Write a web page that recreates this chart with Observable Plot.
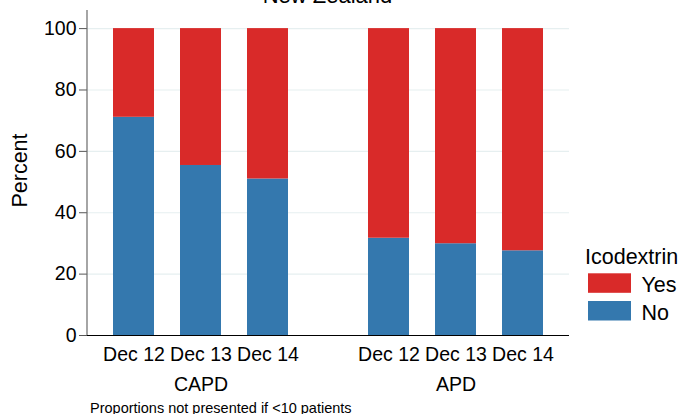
<!DOCTYPE html>
<html>
<head>
<meta charset="utf-8">
<script src="https://cdn.jsdelivr.net/npm/d3@7"></script>
<script src="https://cdn.jsdelivr.net/npm/@observablehq/plot@0.6"></script>
<style>
  body { margin: 0; background: #fff; }
  #wrap { position: relative; width: 682px; height: 414px; overflow: hidden; font-family: "Liberation Sans", Arial, sans-serif; }
</style>
</head>
<body>
<div id="wrap"></div>
<script>
// ---- data ----
const groups = ["CAPD", "APD"];
const periods = ["Dec 12", "Dec 13", "Dec 14"];
const answers = ["No", "Yes"];           // stacking order, bottom to top
const legendOrder = ["Yes", "No"];
const capdNo  = [71.1, 55.4, 51.0];
const capdYes = [28.9, 44.6, 49.0];
const apdNo   = [31.7, 29.9, 27.6];
const apdYes  = [68.3, 70.1, 72.4];
const answerColors = ["#3478ae", "#d92a29"]; // No, Yes
const yTicks = [0, 20, 40, 60, 80, 100];
const titleText = "New Zealand";
const yLabel = "Percent";
const legendTitle = "Icodextrin";
const captionText = "Proportions not presented if <10 patients";

const series = {CAPD: {No: capdNo, Yes: capdYes}, APD: {No: apdNo, Yes: apdYes}};
const data = [];
for (const g of groups) for (const a of answers) periods.forEach((p, i) => data.push({group: g, period: p, answer: a, value: series[g][a][i]}));

const FONT = "Liberation Sans, Arial, sans-serif";
const fxStep = 255;          // facet step in px
const fxGap = 28;            // gap between the two facet bands
const marginLeft = 87;

const chart = Plot.plot({
  width: 682,
  height: 414,
  marginLeft,
  marginRight: 113,
  marginTop: 10,
  marginBottom: 79,
  style: {fontFamily: FONT, background: "white", color: "black"},
  fx: {domain: groups, paddingInner: fxGap / fxStep, paddingOuter: 0, label: null, axis: null},
  x: {domain: periods, padding: 26 / 67, label: null, axis: null},
  y: {domain: [0, 105.9], label: null, axis: null},
  color: {domain: answers, range: answerColors},
  marks: [
    // horizontal grid spanning both panels (anchored in the first panel)
    Plot.ruleY(yTicks.filter(v => v > 0), {fx: () => groups[0], insetRight: -fxStep, stroke: "#e6eff0", strokeWidth: 1.2}),
    Plot.barY(data, {fx: "group", x: "period", y: "value", fill: "answer", order: answers}),
    // x axis line
    Plot.ruleY([0], {fx: () => groups[0], insetRight: -fxStep, stroke: "black", strokeWidth: 1.2}),
    Plot.axisY({ticks: yTicks, anchor: "left", tickSize: 8, tickPadding: 3, fontSize: 19.5, stroke: "#555", fill: "black", label: null}),
    Plot.axisX({anchor: "bottom", tickSize: 0, tickPadding: 12, fontSize: 19.5, fill: "black", label: null}),
    Plot.axisFx({anchor: "bottom", tickSize: 0, tickPadding: 42, fontSize: 19.5, fill: "black", label: null})
  ]
});

const wrap = document.getElementById("wrap");
wrap.appendChild(chart);

// ---- extra decorations inside the same svg: y-axis line, texts and legend ----
const color = chart.scale("color");
const yScale = chart.scale("y");
const colorOf = a => answerColors[color.domain.indexOf(a)];
const ov = d3.select(chart).append("g")
  .attr("font-family", FONT).attr("fill", "black").attr("text-anchor", "start");

ov.append("line")
  .attr("x1", marginLeft).attr("x2", marginLeft)
  .attr("y1", yScale.range[0]).attr("y2", yScale.range[1])
  .attr("stroke", "#6a6a6a").attr("stroke-width", 1.2);

ov.append("text").attr("x", 327.5).attr("y", 3).attr("text-anchor", "middle")
  .attr("font-size", 22).text(titleText);

ov.append("text").attr("transform", "translate(27,170.5) rotate(-90)").attr("text-anchor", "middle")
  .attr("font-size", 21.5).text(yLabel);

ov.append("text").attr("x", 585).attr("y", 264.3).attr("font-size", 21.5).text(legendTitle);
legendOrder.forEach((a, i) => {
  ov.append("rect").attr("x", 588).attr("y", 273.3 + i * 27.7).attr("width", 43).attr("height", 19.5).attr("fill", colorOf(a));
  ov.append("text").attr("x", 641.5).attr("y", 292 + i * 27.5).attr("font-size", 21.5).text(a);
});

ov.append("text").attr("x", 90).attr("y", 413.1).attr("font-size", 14.5).text(captionText);
</script>
</body>
</html>
